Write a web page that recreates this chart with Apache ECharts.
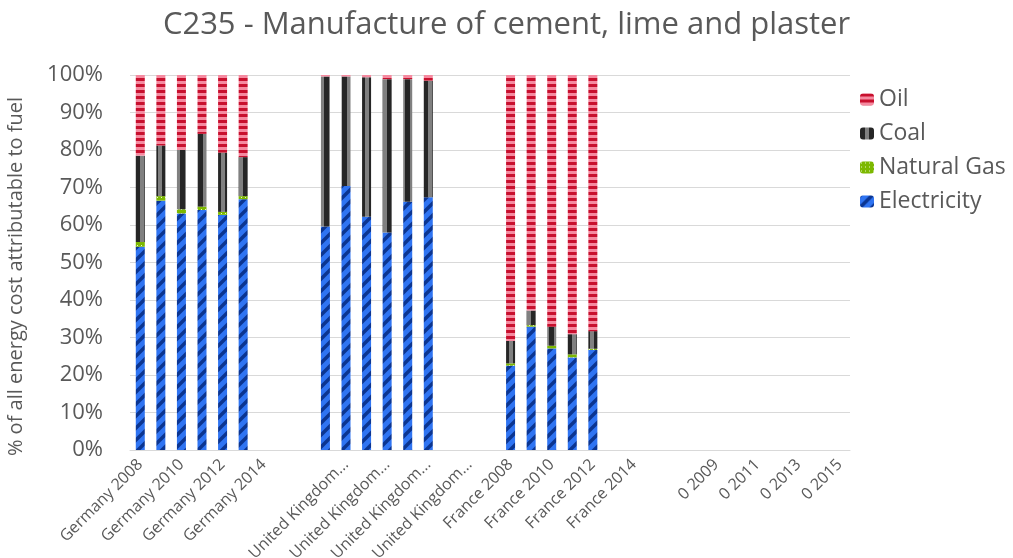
<!DOCTYPE html>
<html>
<head>
<meta charset="utf-8">
<script src="https://cdn.jsdelivr.net/npm/echarts@6/dist/echarts.min.js"></script>
<style>html,body{margin:0;padding:0;background:#fff}#main{width:1013px;height:558px}</style>
</head>
<body>
<div id="main"></div>
<script>
// ---- data ----
const categories = [
  "Germany 2008","Germany 2009","Germany 2010","Germany 2011","Germany 2012","Germany 2013","Germany 2014","Germany 2015","",
  "United Kingdom 2008","United Kingdom 2009","United Kingdom 2010","United Kingdom 2011","United Kingdom 2012","United Kingdom 2013","United Kingdom 2014","United Kingdom 2015","",
  "France 2008","France 2009","France 2010","France 2011","France 2012","France 2013","France 2014","France 2015","",
  "0 2008","0 2009","0 2010","0 2011","0 2012","0 2013","0 2014","0 2015"
];
const seriesNames = ["Electricity", "Natural Gas", "Coal", "Oil"];
// values in % (null = no data)
const electricity = [54.2,66.5,63.1,64.0,62.7,66.9,null,null,null,
  59.6,70.4,62.2,58.0,66.2,67.4,null,null,null,
  22.5,32.9,27.1,24.7,26.7,null,null,null,null,
  null,null,null,null,null,null,null,null];
const naturalGas = [1.3,1.2,1.1,0.9,0.8,0.8,null,null,null,
  0,0,0,0,0,0,null,null,null,
  0.6,0.4,0.7,0.8,0.3,null,null,null,null,
  null,null,null,null,null,null,null,null];
const coal = [23.0,13.5,15.8,19.4,15.8,10.4,null,null,null,
  40.0,29.2,37.2,40.9,32.7,31.1,null,null,null,
  6.0,3.9,5.1,5.4,4.7,null,null,null,null,
  null,null,null,null,null,null,null,null];
const oil = [21.5,18.8,20.0,15.7,20.7,21.9,null,null,null,
  0.4,0.4,0.6,1.1,1.1,1.5,null,null,null,
  70.9,62.8,67.1,69.1,68.3,null,null,null,null,
  null,null,null,null,null,null,null,null];
const yTicks = [0,10,20,30,40,50,60,70,80,90,100];

// ---- patterns ----
function tile(w, h, draw) {
  const c = document.createElement('canvas');
  c.width = w; c.height = h;
  draw(c.getContext('2d'), w, h);
  return { image: c, repeat: 'repeat' };
}
const elecPattern = tile(12, 12, (g, w, h) => {
  g.fillStyle = '#2f74f2'; g.fillRect(0, 0, w, h);
  g.strokeStyle = '#0b3591'; g.lineWidth = 3.5;
  g.beginPath();
  g.moveTo(-2, 2); g.lineTo(2, -2);
  g.moveTo(0, h); g.lineTo(w, 0);
  g.moveTo(w - 2, h + 2); g.lineTo(w + 2, h - 2);
  g.stroke();
});
const gasPattern = tile(4, 4, (g, w, h) => {
  g.fillStyle = '#7cb800'; g.fillRect(0, 0, w, h);
  g.fillStyle = '#e6f5c8'; g.fillRect(1, 1, 1, 1);
});
const coalPattern = tile(9, 4, (g, w, h) => {
  g.fillStyle = '#262626'; g.fillRect(0, 0, w, h);
  g.fillStyle = '#808080'; g.fillRect(5, 0, 4, h);
});
const oilPattern = tile(4, 6, (g, w, h) => {
  g.fillStyle = '#c8102e'; g.fillRect(0, 0, w, h);
  g.fillStyle = '#f58aa0'; g.fillRect(0, 3, w, 3);
});

const txt = '#595959';
const font = 'Open Sans';
const chart = echarts.init(document.getElementById('main'));
const mk = (name, data, color) => ({
  name, type: 'bar', stack: 'total', data, barWidth: 9,
  itemStyle: { color }, emphasis: { disabled: true }
});
chart.setOption({
  animation: false,
  title: {
    text: 'C235 - Manufacture of cement, lime and plaster',
    left: 'center', top: 5,
    textStyle: { fontFamily: font, fontWeight: 'normal', fontSize: 31, color: txt }
  },
  legend: {
    orient: 'vertical', left: 855, top: 83,
    itemWidth: 14, itemHeight: 12, itemGap: 11,
    data: ['Oil', 'Coal', 'Natural Gas', 'Electricity'],
    textStyle: { fontFamily: font, fontSize: 23, color: txt }
  },
  grid: { left: 130, right: 163, top: 75, bottom: 108, containLabel: false, outerBoundsMode: 'none' },
  xAxis: {
    type: 'category', data: categories,
    axisTick: { show: false },
    axisLine: { lineStyle: { color: '#d9d9d9' } },
    axisLabel: {
      interval: 1, rotate: 45, margin: 12,
      fontFamily: font, fontSize: 16, color: txt,
      width: 136, overflow: 'truncate', ellipsis: '...'
    }
  },
  yAxis: {
    type: 'value', min: 0, max: 100, interval: 10,
    name: '% of all energy cost attributable to fuel',
    nameLocation: 'middle', nameGap: 104,
    nameTextStyle: { fontFamily: font, fontSize: 20, color: txt, padding: [0, 28, 0, 0] },
    axisLabel: { formatter: v => yTicks.includes(v) ? v + '%' : '', margin: 27, fontFamily: font, fontSize: 22, color: txt },
    splitLine: { lineStyle: { color: '#d9d9d9' } },
    axisLine: { show: false }, axisTick: { show: false }
  },
  series: [
    mk(seriesNames[0], electricity, elecPattern),
    mk(seriesNames[1], naturalGas, gasPattern),
    mk(seriesNames[2], coal, coalPattern),
    mk(seriesNames[3], oil, oilPattern)
  ]
});
</script>
</body>
</html>
